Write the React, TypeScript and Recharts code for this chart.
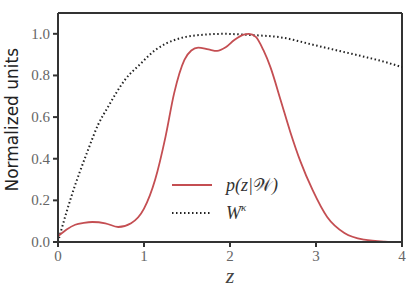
import React from 'react';
import { LineChart, Line, XAxis, YAxis, ReferenceLine } from 'recharts';

// p(z|W) curve
const zRed = [0, 0.1, 0.2, 0.3, 0.4, 0.55, 0.7, 0.85, 1.0, 1.13, 1.25, 1.35, 1.47, 1.55, 1.63, 1.75, 1.85, 1.95, 2.05, 2.15, 2.22, 2.3, 2.39, 2.47, 2.59, 2.7, 2.82, 2.96, 3.13, 3.33, 3.56, 3.8, 4.0];
const pRed = [0.027, 0.06, 0.083, 0.092, 0.096, 0.09, 0.072, 0.09, 0.16, 0.3, 0.505, 0.714, 0.875, 0.92, 0.934, 0.925, 0.918, 0.935, 0.97, 0.995, 1.0, 0.985, 0.92, 0.84, 0.68, 0.53, 0.386, 0.25, 0.12, 0.043, 0.011, 0.002, 0.0];

// W^kappa curve
const zW = [0, 0.04, 0.155, 0.35, 0.466, 0.583, 0.777, 0.972, 1.13, 1.25, 1.46, 1.7, 1.93, 2.2, 2.59, 2.98, 3.3, 3.56, 3.8, 4.0];
const wVals = [0, 0.06, 0.218, 0.443, 0.563, 0.65, 0.778, 0.861, 0.922, 0.952, 0.983, 0.996, 1.0, 0.995, 0.983, 0.946, 0.915, 0.89, 0.865, 0.84];

const xTicks = [0, 1, 2, 3, 4];
const yTicks = [0, 0.2, 0.4, 0.6, 0.8, 1.0];

const redData = zRed.map((z, i) => ({ z, p: pRed[i] }));
const wData = zW.map((z, i) => ({ z, w: wVals[i] }));

const RED = '#c44e52';
const AX = '#333';
const TICK = '#666';
const serif = '"Liberation Serif", "DejaVu Serif", serif';

const XTick = (props: any) => {
  const { x, y, payload } = props;
  return (
    <text x={x} y={y + 12} textAnchor="middle" fontFamily={serif} fontSize={15} fill={TICK}>
      {String(payload.value)}
    </text>
  );
};

const YTick = (props: any) => {
  const { x, y, payload } = props;
  return (
    <text x={x - 1} y={y + 5} textAnchor="end" fontFamily={serif} fontSize={15} fill={TICK}>
      {Number(payload.value).toFixed(1)}
    </text>
  );
};

const LegendBox = () => (
  <svg width={150} height={50} style={{ position: 'absolute', left: 172, top: 172 }}>
    <line x1={0} y1={13} x2={40} y2={13} stroke={RED} strokeWidth={1.8} />
    <text x={54} y={19} fontFamily={serif} fontStyle="italic" fontSize={18} fill="#333">
      p(z|<tspan fontFamily="'DejaVu Sans'" fontStyle="normal">𝒲</tspan>)
    </text>
    <line x1={0} y1={41} x2={40} y2={41} stroke="#222" strokeWidth={2} strokeDasharray="1.5 2.5" />
    <text x={54} y={47} fontFamily={serif} fontStyle="italic" fontSize={18} fill="#333">
      W<tspan fontSize={11} dy={-8}>κ</tspan>
    </text>
  </svg>
);

export default function App() {
  return (
    <div style={{ position: 'absolute', left: 0, top: 0, width: 415, height: 297, background: '#fff' }}>
      <LineChart width={415} height={297} margin={{ top: 13, right: 13, bottom: 0, left: 0 }}>
        <XAxis
          type="number"
          dataKey="z"
          domain={[0, 4]}
          ticks={xTicks}
          allowDuplicatedCategory={false}
          height={55}
          stroke={AX}
          strokeWidth={2}
          tickSize={5}
          tick={<XTick />}
          label={{ value: 'z', position: 'insideBottom', offset: 14, fill: '#444', fontFamily: serif, fontStyle: 'italic', fontSize: 22 }}
        />
        <YAxis
          type="number"
          domain={[0, 1.1]}
          ticks={yTicks}
          width={58}
          stroke={AX}
          strokeWidth={2}
          tickSize={5}
          tick={<YTick />}
          label={{ value: 'Normalized units', angle: -90, position: 'insideLeft', offset: 12, dy: 64, fill: '#222', fontFamily: '"DejaVu Sans", sans-serif', fontSize: 17 }}
        />
        <ReferenceLine y={1.1} stroke={AX} strokeWidth={2} />
        <ReferenceLine x={4} stroke={AX} strokeWidth={2} />
        <Line data={wData} dataKey="w" type="monotone" stroke="#222" strokeWidth={2} strokeDasharray="1.5 2.5" dot={false} isAnimationActive={false} />
        <Line data={redData} dataKey="p" type="monotone" stroke={RED} strokeWidth={1.8} dot={false} isAnimationActive={false} />
      </LineChart>
      <LegendBox />
    </div>
  );
}
